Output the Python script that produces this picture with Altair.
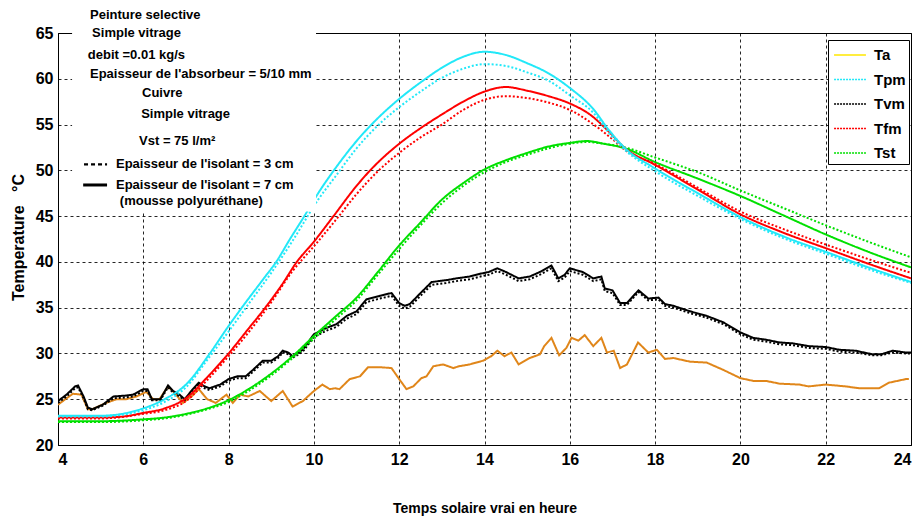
import altair as alt
import pandas as pd

# ---------------- data ----------------
SERIES = ["Ta", "Tpm", "Tvm", "Tfm", "Tst"]
LINE_COLORS = ["#E0861A", "#22E8F8", "#000000", "#FF0000", "#00E000"]
LEGEND_COLORS = ["#FFE800", "#22E8F8", "#000000", "#FF0000", "#00E000"]

# Ta (ambient)
TA_H = [4.0, 4.2, 4.35, 4.55, 4.7, 4.8, 5.13, 5.37, 5.6, 5.84,
        6.07, 6.23, 6.38, 6.58, 6.73, 6.93, 7.13, 7.3, 7.5, 7.7,
        7.95, 8.1, 8.27, 8.46, 8.73, 9.0, 9.27, 9.5, 9.74, 10.0,
        10.2, 10.37, 10.5, 10.6, 10.84, 11.08, 11.27, 11.55, 11.82, 12.0,
        12.17, 12.33, 12.52, 12.64, 12.8, 13.03, 13.27, 13.4, 13.65, 13.96,
        14.16, 14.3, 14.47, 14.63, 14.8, 15.06, 15.3, 15.4, 15.57, 15.75,
        15.92, 16.04, 16.2, 16.35, 16.55, 16.74, 16.87, 17.03, 17.18, 17.34,
        17.6, 17.84, 18.04, 18.23, 18.43, 18.82, 19.21, 19.6, 20.0, 20.3,
        20.6, 20.92, 21.38, 21.6, 22.0, 22.47, 22.78, 23.25, 23.48, 23.88,
        23.95]
TA_T = [24.4, 25.1, 25.6, 25.5, 23.9, 23.9, 24.6, 25.0, 25.0, 25.3,
        25.8, 25.0, 25.0, 26.4, 25.7, 24.6, 25.3, 26.1, 25.0, 24.6,
        25.5, 24.6, 25.5, 25.3, 25.9, 24.8, 25.9, 24.2, 24.8, 25.9,
        26.6, 26.1, 26.2, 26.1, 27.2, 27.5, 28.5, 28.5, 28.4, 27.2,
        26.1, 26.4, 27.3, 27.5, 28.6, 28.8, 28.4, 28.6, 28.8, 29.2,
        29.7, 30.3, 29.7, 30.1, 28.8, 29.5, 29.9, 30.8, 31.7, 29.8,
        30.6, 31.7, 31.4, 32.0, 30.8, 31.7, 30.1, 30.3, 28.4, 28.8,
        31.2, 30.1, 30.4, 29.4, 29.5, 29.1, 29.0, 28.2, 27.3, 27.0,
        27.0, 26.7, 26.6, 26.4, 26.6, 26.4, 26.2, 26.2, 26.8, 27.2,
        27.2]

# Tpm (plate) - 7 cm solid, 3 cm dotted
TPM_H = [4.0, 5.0, 5.5, 6.0, 6.5, 7.0, 7.56, 8.0, 8.31, 8.81,
         9.13, 9.44, 9.75, 10.1, 10.5, 11.0, 11.5, 12.0, 12.5, 13.0,
         13.5, 14.0, 14.5, 15.0, 15.5, 16.0, 16.55, 16.9, 17.3, 18.0,
         19.0, 20.0, 21.0, 22.0, 23.0, 24.0]
TPM_T = [23.2, 23.2, 23.4, 24.0, 25.0, 26.6, 30.0, 33.0, 35.0, 38.1,
         40.1, 42.5, 44.8, 47.5, 50.2, 53.2, 55.7, 57.8, 59.6, 61.2,
         62.4, 62.95, 62.6, 61.7, 60.6, 59.0, 56.7, 54.5, 52.4, 50.2,
         47.5, 44.9, 42.8, 41.1, 39.4, 37.8]
TPM3_H = [4.0, 5.0, 5.5, 6.0, 6.5, 7.0, 7.5, 8.0, 8.5, 9.0,
          9.5, 10.1, 10.5, 11.0, 11.5, 12.0, 12.5, 13.0, 13.5, 14.0,
          14.5, 15.0, 15.5, 16.0, 16.55, 17.0, 17.3, 18.0, 19.0, 20.0,
          21.0, 22.0, 23.0, 24.0]
TPM3_T = [23.1, 23.1, 23.3, 23.8, 24.7, 26.3, 29.3, 32.4, 35.6, 38.8,
          42.3, 46.8, 49.3, 52.4, 54.9, 56.9, 58.6, 60.1, 61.1, 61.6,
          61.4, 60.7, 59.8, 58.2, 56.3, 53.6, 52.2, 49.9, 47.2, 44.7,
          42.6, 40.9, 39.2, 37.7]

# Tvm (glass)
TVM_H = [4.0, 4.2, 4.4, 4.47, 4.6, 4.7, 4.8, 5.05, 5.3, 5.6,
         5.76, 6.0, 6.1, 6.2, 6.4, 6.58, 6.7, 6.85, 6.97, 7.16,
         7.3, 7.44, 7.55, 7.8, 8.0, 8.2, 8.4, 8.57, 8.8, 9.0,
         9.16, 9.27, 9.4, 9.5, 9.74, 10.0, 10.3, 10.53, 10.77, 11.0,
         11.23, 11.55, 11.82, 12.0, 12.13, 12.25, 12.48, 12.76, 13.1, 13.34,
         13.65, 13.9, 14.1, 14.3, 14.5, 14.8, 15.06, 15.3, 15.57, 15.73,
         15.88, 16.0, 16.3, 16.55, 16.74, 16.82, 17.0, 17.18, 17.34, 17.61,
         17.84, 18.08, 18.23, 18.43, 18.82, 19.21, 19.6, 20.0, 20.3, 20.6,
         20.92, 21.23, 21.6, 22.0, 22.32, 22.7, 23.1, 23.3, 23.57, 23.88,
         24.0]
TVM_T = [24.8, 25.5, 26.4, 26.5, 25.3, 24.1, 23.9, 24.4, 25.3, 25.4,
         25.5, 26.1, 26.1, 25.0, 25.0, 26.5, 25.9, 25.5, 25.0, 26.1,
         26.8, 26.4, 26.2, 26.6, 27.2, 27.5, 27.5, 28.2, 29.2, 29.2,
         29.7, 30.3, 30.1, 29.7, 30.4, 32.1, 32.8, 33.2, 34.1, 34.6,
         35.9, 36.3, 36.6, 35.5, 35.2, 35.4, 36.5, 37.8, 38.0, 38.2,
         38.4, 38.7, 38.9, 39.3, 38.9, 38.2, 38.4, 38.9, 39.6, 38.2,
         38.6, 39.3, 38.9, 38.2, 38.4, 37.1, 36.9, 35.5, 35.5, 36.9,
         36.0, 36.1, 35.4, 35.2, 34.6, 34.1, 33.4, 32.3, 31.7, 31.5,
         31.2, 31.1, 30.8, 30.7, 30.4, 30.3, 29.9, 29.9, 30.3, 30.1,
         30.1]
TVM3_T = [24.6, 25.3, 26.2, 26.3, 25.1, 23.9, 23.8, 24.3, 25.1, 25.2,
          25.3, 25.9, 25.9, 24.9, 24.9, 26.3, 25.7, 25.3, 24.9, 25.9,
          26.6, 26.2, 26.0, 26.4, 27.0, 27.3, 27.3, 28.0, 29.0, 29.0,
          29.5, 30.1, 29.9, 29.5, 30.2, 31.8, 32.5, 32.9, 33.8, 34.3,
          35.6, 36.0, 36.3, 35.2, 34.9, 35.1, 36.2, 37.5, 37.7, 37.9,
          38.1, 38.4, 38.6, 39.0, 38.6, 37.9, 38.1, 38.6, 39.3, 37.9,
          38.3, 39.0, 38.6, 37.9, 38.1, 36.8, 36.6, 35.3, 35.3, 36.7,
          35.8, 35.9, 35.2, 35.0, 34.4, 33.9, 33.2, 32.1, 31.5, 31.3,
          31.0, 30.9, 30.6, 30.5, 30.2, 30.1, 29.8, 29.8, 30.1, 30.0,
          30.0]

# Tfm (fluid)
TFM_H = [4.0, 5.0, 5.5, 6.0, 6.5, 7.0, 7.5, 8.0, 8.5, 8.86,
         9.25, 9.6, 10.0, 10.46, 11.0, 11.32, 12.0, 12.5, 13.0, 13.5,
         14.0, 14.5, 15.0, 15.5, 16.0, 16.5, 16.9, 17.3, 18.0, 19.0,
         20.0, 21.0, 22.0, 23.0, 24.0]
TFM_T = [23.0, 23.0, 23.1, 23.5, 24.0, 25.1, 27.4, 30.0, 32.9, 35.0,
         37.5, 40.0, 42.2, 45.0, 48.3, 50.0, 52.9, 54.6, 56.1, 57.5,
         58.6, 59.1, 58.7, 58.1, 57.3, 56.0, 54.3, 52.4, 50.6, 47.9,
         45.2, 43.2, 41.5, 39.8, 38.2]
TFM3_H = [4.0, 5.0, 6.0, 6.5, 7.0, 7.5, 8.0, 8.5, 9.0, 9.5,
          10.0, 10.5, 11.0, 11.5, 12.0, 12.5, 13.0, 13.5, 14.0, 14.5,
          15.0, 15.5, 16.0, 16.5, 17.0, 17.3, 18.0, 19.0, 20.0, 21.0,
          22.0, 23.0, 24.0]
TFM3_T = [22.9, 22.9, 23.4, 23.8, 24.8, 27.1, 29.7, 32.5, 35.6, 39.0,
          41.7, 44.5, 47.4, 49.9, 51.9, 53.6, 55.0, 56.6, 57.7, 58.1,
          57.9, 57.4, 56.6, 55.2, 53.4, 52.2, 50.7, 48.1, 45.5, 43.6,
          41.9, 40.3, 38.8]

# Tst (storage)
TST_H = [4.0, 5.0, 6.0, 6.5, 7.0, 7.5, 8.0, 8.5, 9.0, 9.5,
         10.0, 10.5, 11.0, 11.5, 12.0, 12.5, 13.0, 13.5, 14.0, 14.5,
         15.0, 15.5, 16.0, 16.4, 16.8, 17.3, 18.0, 19.0, 20.0, 21.0,
         22.0, 23.0, 24.0]
TST_T = [22.6, 22.6, 22.8, 23.0, 23.4, 24.0, 24.9, 26.2, 27.8, 29.7,
         31.9, 34.0, 36.1, 38.9, 41.8, 44.3, 46.8, 48.6, 50.1, 51.1,
         51.9, 52.6, 53.0, 53.2, 52.9, 52.4, 50.9, 49.1, 47.2, 45.1,
         43.0, 41.1, 39.4]
TST3_T = [22.5, 22.5, 22.7, 22.9, 23.3, 23.9, 24.7, 26.0, 27.6, 29.5,
          31.6, 33.7, 35.8, 38.6, 41.4, 44.0, 46.4, 48.3, 49.8, 50.9,
          51.7, 52.4, 52.9, 53.1, 52.9, 52.5, 51.4, 49.8, 47.8, 45.9,
          44.0, 42.2, 40.5]

# annotation texts (top-left box)
NOTE_TEXT = ["Peinture selective", "Simple vitrage", "debit =0.01 kg/s",
             "Epaisseur de l'absorbeur = 5/10 mm", "Cuivre", "Simple vitrage",
             "Vst = 75 l/m\u00b2", "Epaisseur de l'isolant = 3 cm",
             "Epaisseur de l'isolant  = 7 cm", "(mousse polyur\u00e9thane)"]
NOTE_HOUR = [4.75, 4.80, 4.70, 4.75, 5.97, 5.95, 5.90, 5.36, 5.36, 5.45]
NOTE_TEMP = [66.95, 65.0, 62.55, 60.5, 58.4, 56.1, 53.15, 50.65, 48.45, 46.6]

# ---------------- tables ----------------
rows = []


def add(name, style, hs, ts):
    for h, t in zip(hs, ts):
        rows.append({"hour": h, "temp": t, "series": name, "style": style})


add("Ta", "solid", TA_H, TA_T)
add("Tvm", "dotted", TVM_H, TVM3_T)
add("Tvm", "solid", TVM_H, TVM_T)
add("Tst", "dotted", TST_H, TST3_T)
add("Tst", "solid", TST_H, TST_T)
add("Tfm", "dotted", TFM3_H, TFM3_T)
add("Tfm", "solid", TFM_H, TFM_T)
add("Tpm", "dotted", TPM3_H, TPM3_T)
add("Tpm", "solid", TPM_H, TPM_T)
df = pd.DataFrame(rows)
df_noisy = df[df.series.isin(["Ta", "Tvm"])]
df_smooth = df[~df.series.isin(["Ta", "Tvm"])]

FONT = "Liberation Sans"
x_scale = alt.Scale(domain=[4, 24], nice=False, zero=False)
y_scale = alt.Scale(domain=[20, 65], nice=False, zero=False)
color_enc = alt.Color("series:N", scale=alt.Scale(domain=SERIES, range=LINE_COLORS), legend=None)
dash_enc = alt.StrokeDash("style:N",
                          scale=alt.Scale(domain=["solid", "dotted"], range=[[1, 0], [2, 2]]),
                          legend=None)

noisy = alt.Chart(df_noisy).mark_line(strokeWidth=2, clip=True).encode(
    x=alt.X("hour:Q", scale=x_scale,
            axis=alt.Axis(values=list(range(4, 25, 2)), title="Temps solaire vrai en heure",
                          titleY=63, titleBaseline="middle")),
    y=alt.Y("temp:Q", scale=y_scale,
            axis=alt.Axis(values=list(range(20, 66, 5)),
                          title="Temperature\u00a0\u00a0\u00a0\u00b0C",
                          titleX=-40, titleY=204, titleAngle=270, titleFontSize=16,
                          titleBaseline="middle", titleAlign="center")),
    color=color_enc, strokeDash=dash_enc, detail="style:N",
)

smooth = alt.Chart(df_smooth).mark_line(strokeWidth=2, clip=True, interpolate="monotone").encode(
    x=alt.X("hour:Q", scale=x_scale),
    y=alt.Y("temp:Q", scale=y_scale),
    color=color_enc, strokeDash=dash_enc, detail="style:N",
)

leg_df = pd.DataFrame({"leg": SERIES + SERIES, "hour": [1] * 5 + [2] * 5, "temp": [30] * 10})
legend_layer = alt.Chart(leg_df).mark_line(strokeWidth=1.5, clip=True).encode(
    x=alt.X("hour:Q", scale=x_scale),
    y=alt.Y("temp:Q", scale=y_scale),
    color=alt.Color("leg:N", scale=alt.Scale(domain=SERIES, range=LEGEND_COLORS),
                    legend=alt.Legend(title=None)),
    strokeDash=alt.StrokeDash("leg:N",
                              scale=alt.Scale(domain=SERIES,
                                              range=[[1, 0], [2, 1], [2, 1], [2, 1], [2, 1]]),
                              legend=alt.Legend(title=None)),
)

box_df = pd.DataFrame({"hour": [4.33], "hour2": [10.05], "temp": [45.5], "temp2": [68.8]})
box = alt.Chart(box_df).mark_rect(color="white", clip=False).encode(
    x=alt.X("hour:Q", scale=x_scale), x2="hour2:Q",
    y=alt.Y("temp:Q", scale=y_scale), y2="temp2:Q",
)

note_df = pd.DataFrame({"hour": NOTE_HOUR, "temp": NOTE_TEMP, "text": NOTE_TEXT})
notes = alt.Chart(note_df).mark_text(align="left", baseline="middle", font=FONT,
                                     fontWeight="bold", fontSize=13, clip=False).encode(
    x=alt.X("hour:Q", scale=x_scale), y=alt.Y("temp:Q", scale=y_scale), text="text:N")

key_df = pd.DataFrame({"hour": [4.61, 4.59], "hour2": [5.15, 5.15], "temp": [50.65, 48.4],
                       "kind": ["3 cm", "7 cm"]})
key_dash = alt.Chart(key_df[key_df.kind == "3 cm"]).mark_rule(
    color="black", strokeWidth=2.2, strokeDash=[4, 3], clip=False).encode(
    x=alt.X("hour:Q", scale=x_scale), x2="hour2:Q", y=alt.Y("temp:Q", scale=y_scale))
key_solid = alt.Chart(key_df[key_df.kind == "7 cm"]).mark_rule(
    color="black", strokeWidth=3, clip=False).encode(
    x=alt.X("hour:Q", scale=x_scale), x2="hour2:Q", y=alt.Y("temp:Q", scale=y_scale))

chart = alt.layer(noisy, smooth, legend_layer, box, notes, key_dash, key_solid).resolve_scale(
    color="independent", strokeDash="independent"
).properties(
    width=853, height=412,
    autosize=alt.AutoSizeParams(type="none"),
    padding={"left": 50, "top": 25, "right": 3, "bottom": 72},
).configure_view(
    stroke="black", strokeWidth=1
).configure_axis(
    grid=True, gridColor="black", gridDash=[3, 3], gridOpacity=0.85, gridWidth=1,
    domainColor="black", domainWidth=1, ticks=False,
    labelFont=FONT, labelFontWeight="bold", labelFontSize=16, labelColor="black",
    titleFont=FONT, titleFontWeight="bold", titleFontSize=14, titleColor="black",
).configure_axisX(
    labelPadding=6
).configure_axisY(
    labelPadding=5
).configure_legend(
    orient="none", legendX=770, legendY=7,
    fillColor="white", strokeColor="black", padding=3,
    symbolType="M-1.45,0H1.45", symbolSize=484, symbolStrokeWidth=1.5, symbolOffset=7,
    labelFont=FONT, labelFontWeight="bold", labelFontSize=15, labelColor="black",
    labelOffset=12, rowPadding=4.5,
)

chart.save("out.html", embed_options={"renderer": "svg", "actions": False})
